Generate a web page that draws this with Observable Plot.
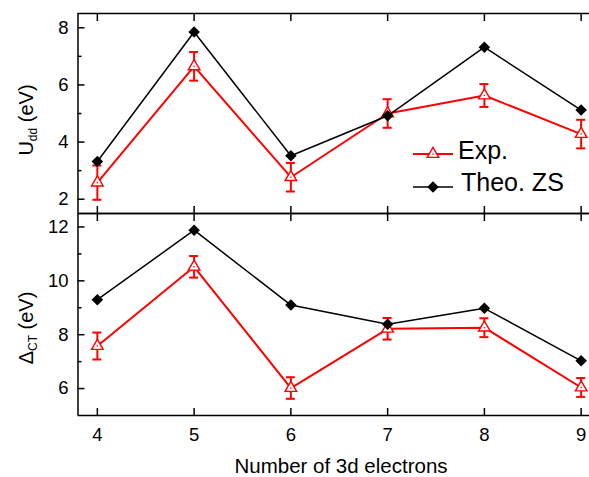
<!DOCTYPE html>
<html><head><meta charset="utf-8">
<script src="https://cdn.jsdelivr.net/npm/d3@7"></script>
<script src="https://cdn.jsdelivr.net/npm/@observablehq/plot@0.6"></script>
<style>
body{margin:0;background:#fff;}
#chart{position:relative;width:589px;height:477px;overflow:hidden;background:#fff;}
#chart svg{position:absolute;left:0;}
</style></head><body><div id="chart"></div>
<script>
// ---- data ----
const electrons = [4, 5, 6, 7, 8, 9];
const uddExp = [2.58, 6.65, 2.77, 5.0, 5.63, 4.28];
const uddExpErr = [0.6, 0.5, 0.5, 0.5, 0.4, 0.5];
const uddTheo = [3.32, 7.85, 3.52, 4.92, 7.32, 5.12];
const dctExp = [7.58, 10.52, 6.02, 8.22, 8.26, 6.04];
const dctExpErr = [0.5, 0.4, 0.4, 0.4, 0.35, 0.35];
const dctTheo = [9.3, 11.88, 9.1, 8.39, 8.98, 7.03];
const xTicks = [4, 5, 6, 7, 8, 9];
const uddTicks = [2, 4, 6, 8];
const uddMinor = [3, 5, 7];
const dctTicks = [6, 8, 10, 12];
const dctMinor = [7, 9, 11];
const seriesNames = ["Exp.", "Theo. ZS"];
const xTitle = "Number of 3d electrons";

const RED = "#ff0000";
const FONT = "'Liberation Sans', Arial, Helvetica, sans-serif";
const xDomain = [3.8, 9.2];
const xRange = [77.5, 600];
const fmt = d3.format("d");

function panel({yDomain, yTicks, yMinor, exp, err, theo, height, marginTop, marginBottom, xLabels}) {
  const expData = electrons.map((n, i) => ({n, v: exp[i], lo: exp[i] - err[i], hi: exp[i] + err[i]}));
  const theoData = electrons.map((n, i) => ({n, v: theo[i]}));
  return Plot.plot({
    width: 589, height, marginTop, marginBottom, marginLeft: 77.5, marginRight: 0,
    style: {fontFamily: FONT, fontSize: "18.5px", background: "transparent", overflow: "visible", color: "#000"},
    x: {domain: xDomain, range: xRange},
    y: {domain: yDomain},
    marks: [
      Plot.axisY({ticks: yTicks, tickSize: -7, tickPadding: 16.5, tickFormat: fmt, strokeWidth: 1.5, label: null}),
      Plot.axisY({ticks: yMinor, tickSize: -4, fill: "none", strokeWidth: 1.5, label: null}),
      Plot.axisX({anchor: "top", ticks: xTicks, tickSize: -7, fill: "none", strokeWidth: 1.5, label: null}),
      xLabels
        ? Plot.axisX({anchor: "bottom", ticks: xTicks, tickSize: -7, tickPadding: 19, tickFormat: fmt, strokeWidth: 1.5, label: null})
        : Plot.axisX({anchor: "bottom", ticks: xTicks, tickSize: -7, fill: "none", strokeWidth: 1.5, label: null}),
      Plot.ruleX([xDomain[0]], {stroke: "#000", strokeWidth: 1.5}),
      Plot.ruleY([yDomain[0], yDomain[1]], {stroke: "#000", strokeWidth: 1.5}),
      Plot.line(expData, {x: "n", y: "v", stroke: RED, strokeWidth: 2}),
      Plot.ruleX(expData, {x: "n", y1: "lo", y2: "hi", stroke: RED, strokeWidth: 2}),
      Plot.ruleY(expData, {y: "lo", x1: "n", x2: "n", insetLeft: -4.5, insetRight: -4.5, stroke: RED, strokeWidth: 2}),
      Plot.ruleY(expData, {y: "hi", x1: "n", x2: "n", insetLeft: -4.5, insetRight: -4.5, stroke: RED, strokeWidth: 2}),
      Plot.dot(expData, {x: "n", y: "v", symbol: "triangle", r: 4.3, stroke: RED, fill: "white", strokeWidth: 1.4}),
      Plot.dot(expData, {x: "n", y: "v", r: 0.8, fill: RED}),
      Plot.line(theoData, {x: "n", y: "v", stroke: "#000", strokeWidth: 1.5}),
      Plot.dot(theoData, {x: "n", y: "v", symbol: "square", rotate: 45, r: 4.6, fill: "#000", stroke: "none"})
    ]
  });
}

const chart = d3.select("#chart");

const topSvg = panel({yDomain: [1.5, 8.5], yTicks: uddTicks, yMinor: uddMinor, exp: uddExp, err: uddExpErr, theo: uddTheo,
  height: 214, marginTop: 13, marginBottom: 1, xLabels: false});
topSvg.style.top = "0px";
chart.node().appendChild(topSvg);

const botSvg = panel({yDomain: [5, 12.5], yTicks: dctTicks, yMinor: dctMinor, exp: dctExp, err: dctExpErr, theo: dctTheo,
  height: 265, marginTop: 1, marginBottom: 62, xLabels: true});
botSvg.style.top = "212px";
chart.node().appendChild(botSvg);

// y-axis titles
function yTitle(svg, cy, main, sub) {
  const t = d3.select(svg).append("text")
    .attr("transform", `translate(33,${cy}) rotate(-90)`)
    .attr("text-anchor", "middle")
    .attr("font-family", FONT).attr("font-size", 20).attr("fill", "#000");
  t.append("tspan").text(main);
  t.append("tspan").attr("font-size", 12).attr("dy", 4).text(sub);
  t.append("tspan").attr("dy", -4).text(" (eV)");
}
yTitle(topSvg, 120, "U", "dd");
yTitle(botSvg, 116, "\u0394", "CT");

// x-axis title
d3.select(botSvg).append("text")
  .attr("x", 341).attr("y", 261)
  .attr("text-anchor", "middle")
  .attr("font-family", FONT).attr("font-size", 20.5).attr("fill", "#000")
  .text(xTitle);

// legend
const lg = d3.select(topSvg).append("g").attr("font-family", FONT).attr("font-size", 25).attr("text-anchor", "start").attr("fill", "#000");
const ly = [154, 187];
lg.append("line").attr("x1", 413).attr("x2", 453).attr("y1", ly[0]).attr("y2", ly[0]).attr("stroke", RED).attr("stroke-width", 2);
lg.append("path").attr("d", d3.symbol(d3.symbolTriangle, Math.PI * 4.3 * 4.3)())
  .attr("transform", `translate(433,${ly[0]})`).attr("fill", "white").attr("stroke", RED).attr("stroke-width", 1.4);
lg.append("circle").attr("cx", 433).attr("cy", ly[0]).attr("r", 0.8).attr("fill", RED);
lg.append("text").attr("x", 458).attr("y", ly[0] + 5).text(seriesNames[0]);
lg.append("line").attr("x1", 413).attr("x2", 453).attr("y1", ly[1]).attr("y2", ly[1]).attr("stroke", "#000").attr("stroke-width", 1.5);
lg.append("path").attr("d", d3.symbol(d3.symbolSquare, Math.PI * 4.6 * 4.6)())
  .attr("transform", `translate(433,${ly[1]}) rotate(45)`).attr("fill", "#000");
lg.append("text").attr("x", 461).attr("y", ly[1] + 4).text(seriesNames[1]);
</script>
</body></html>
